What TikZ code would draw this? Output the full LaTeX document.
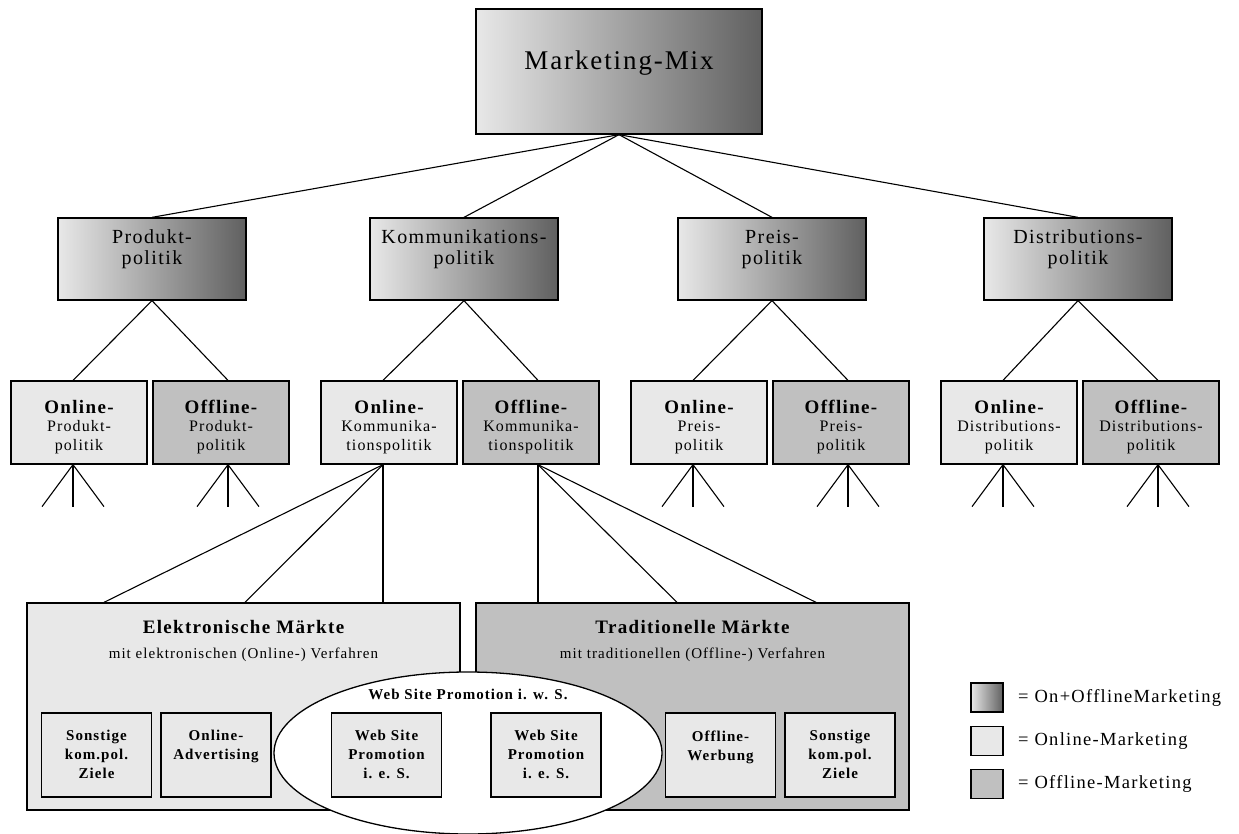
\documentclass[tikz,border=0pt]{standalone}
\usepackage{fontspec}
\setmainfont{Liberation Serif}[LetterSpace=7]
\usetikzlibrary{shapes.geometric}
\definecolor{hell}{RGB}{232,232,232}
\definecolor{mittel}{RGB}{192,192,192}
\definecolor{dunkel}{RGB}{96,96,96}
\tikzset{
  verlauf/.style={draw, line width=1.3pt, left color=hell, right color=dunkel},
  mixbox/.style={verlauf, minimum width=286pt, minimum height=125pt, inner sep=0pt, font=\fontsize{27}{30}\selectfont},
  polbox/.style={verlauf, minimum width=188pt, minimum height=82pt, inner sep=0pt, align=center, font=\fontsize{20}{21}\selectfont},
  onbox/.style={draw, line width=1.3pt, fill=hell, minimum width=136pt, minimum height=83pt, inner sep=0pt, align=center, font=\fontsize{16}{18.5}\selectfont},
  offbox/.style={onbox, fill=mittel},
  mktbox/.style={draw, line width=1.3pt, minimum width=433pt, minimum height=207pt, inner sep=0pt},
  inbox/.style={draw, line width=1.3pt, fill=hell, minimum width=110pt, minimum height=84pt, inner sep=0pt},
  intext/.style={anchor=north, align=center, inner sep=0pt, font=\bfseries\fontsize{15}{19}\selectfont},
  titel/.style={anchor=north, align=center, inner sep=0pt},
  legbox/.style={draw, line width=1.3pt, minimum width=32pt, minimum height=29pt, inner sep=0pt},
  legtext/.style={anchor=west, inner sep=0pt, font=\fontsize{18.5}{20}\selectfont},
  conn/.style={line width=1.1pt}
}
% kopfzeile fett, unten normal
\newcommand{\kopf}[2]{\rule{0pt}{22pt}{\bfseries\fontsize{19}{21}\selectfont #1}\\#2}
% text etwas nach oben
\newcommand{\tief}[1]{\rule[-#1]{0pt}{1pt}}
\begin{document}
\begin{tikzpicture}[x=1pt, y=-1pt]
\useasboundingbox (0,0) rectangle (1239,834);

% spitze
\node[mixbox] (mix) at (619,71.5) {Marketing-Mix\tief{22pt}};

% ebene 2
\node[polbox] (prod)  at (152,259)  {Produkt-\\politik\tief{23pt}};
\node[polbox] (komm)  at (464,259)  {Kommunikations-\\politik\tief{23pt}};
\node[polbox] (preis) at (772,259)  {Preis-\\politik\tief{23pt}};
\node[polbox] (distr) at (1078,259) {Distributions-\\politik\tief{23pt}};

\foreach \n in {prod,komm,preis,distr}
  \draw[conn] (mix.south) -- (\n.north);

% ebene 3
\foreach \x/\n/\t in {79/prod/{Produkt-\\politik}, 389/komm/{Kommunika-\\tionspolitik},
                      699/preis/{Preis-\\politik}, 1009/distr/{Distributions-\\politik}} {
  \node[onbox]  (on\n)  at (\x,422.5)     {\kopf{Online-}{\t}};
  \node[offbox] (off\n) at (\x+142,422.5) {\kopf{Offline-}{\t}};
  \draw[conn] (\n.south) -- ([xshift=-6pt]on\n.north);
  \draw[conn] (\n.south) -- ([xshift=7pt]off\n.north);
}

% stummel
\foreach \n in {prod,preis,distr} {
  \foreach \d in {-31,0,31} {
    \draw[conn] ([xshift=-6pt]on\n.south) -- ++(\d,42);
    \draw[conn] ([xshift=7pt]off\n.south) -- ++(\d,42);
  }
}

% maerkte
\node[mktbox, fill=hell]   (elek)  at (243.5,706.5) {};
\node[mktbox, fill=mittel] (trad)  at (692.5,706.5) {};
\node[titel] (elekT) at ([yshift=-18pt]elek.north)
  {\bfseries\fontsize{19}{22}\selectfont Elektronische Märkte\\[13pt]\fontsize{15}{17}\selectfont mit elektronischen (Online-) Verfahren};
\node[titel] (tradT) at ([yshift=-18pt]trad.north)
  {\bfseries\fontsize{19}{22}\selectfont Traditionelle Märkte\\[13pt]\fontsize{15}{17}\selectfont mit traditionellen (Offline-) Verfahren};

\foreach \s in {-139.5,1.5,139.5}
  \draw[conn] ([xshift=-6pt]onkomm.south) -- ([xshift=\s pt]elek.north);
\foreach \s in {-154.5,-15.5,123.5}
  \draw[conn] ([xshift=7pt]offkomm.south) -- ([xshift=\s pt]trad.north);

% web site promotion
\node[ellipse, draw, line width=1.3pt, fill=white, minimum width=388pt, minimum height=162pt] (wsp) at (468,753) {};
\node[intext] (wspT) at (468,689) {Web Site Promotion i. w. S.};

\foreach \x/\n/\t in {96.5/son1/{Sonstige\\kom.pol.\\Ziele}, 216/adv/{Online-\\Advertising},
                      386.5/wsp1/{Web Site\\Promotion\\i. e. S.}, 546/wsp2/{Web Site\\Promotion\\i. e. S.},
                      720.5/werb/{Offline-\\Werbung}, 840/son2/{Sonstige\\kom.pol.\\Ziele}} {
  \node[inbox] (\n) at (\x,755) {};
  \node[intext] (\n T) at ([yshift=-18pt]\n.north) {\t};
}

% legende
\node[legbox, left color=hell, right color=dunkel] (leg1) at (987,697.5) {};
\node[legbox, fill=hell]   (leg2) at (987,741) {};
\node[legbox, fill=mittel] (leg3) at (987,784) {};
\node[legtext] (leg1T) at (1018,697.5) {= On+OfflineMarketing};
\node[legtext] (leg2T) at (1018,741)   {= Online-Marketing};
\node[legtext] (leg3T) at (1018,784)   {= Offline-Marketing};
\end{tikzpicture}
\end{document}
